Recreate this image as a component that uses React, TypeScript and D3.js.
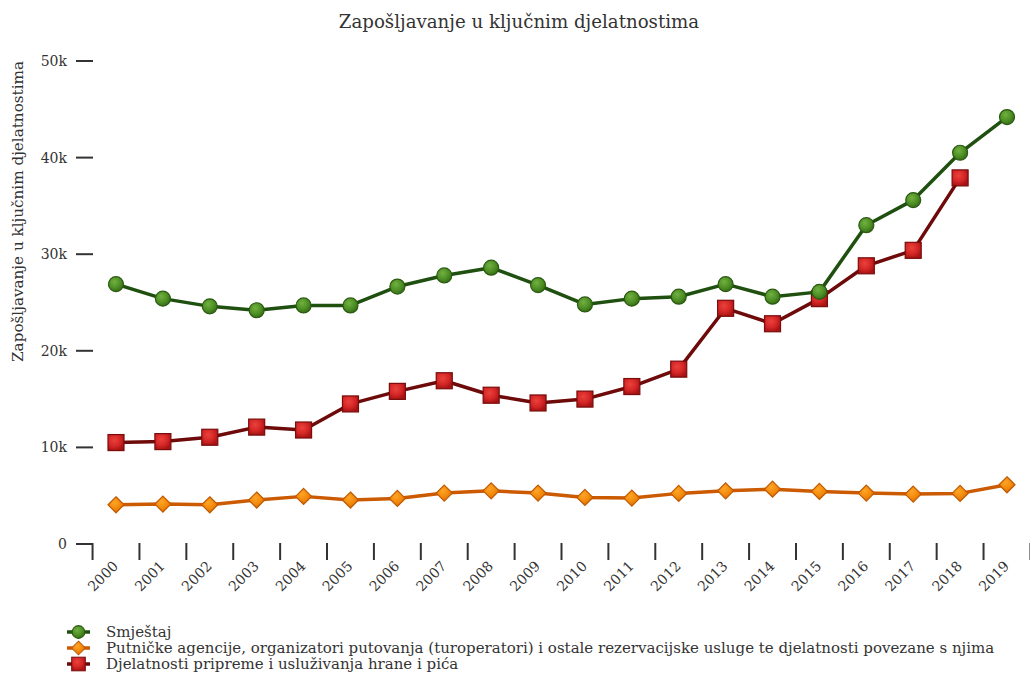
import React, { useEffect, useRef } from "react";
import * as d3 from "d3";

const years = [
  "2000", "2001", "2002", "2003", "2004", "2005", "2006", "2007", "2008", "2009",
  "2010", "2011", "2012", "2013", "2014", "2015", "2016", "2017", "2018", "2019",
];

const smjestaj = [
  26900, 25400, 24600, 24200, 24700, 24700, 26650, 27800, 28600, 26800,
  24800, 25400, 25600, 26900, 25600, 26100, 33000, 35600, 40500, 44200,
];

const putnicke = [
  4060, 4130, 4060, 4550, 4930, 4550, 4720, 5270, 5500, 5270,
  4820, 4750, 5240, 5500, 5680, 5440, 5270, 5170, 5240, 6130,
];

// no value for 2019
const hrana = [
  10500, 10600, 11050, 12100, 11800, 14500, 15800, 16900, 15400, 14600,
  15000, 16300, 18100, 24400, 22800, 25400, 28800, 30400, 37900, null,
];

const yTicks = [0, 10000, 20000, 30000, 40000, 50000];

const seriesNames = [
  "Smještaj",
  "Putničke agencije, organizatori putovanja (turoperatori) i ostale rezervacijske usluge te djelatnosti povezane s njima",
  "Djelatnosti pripreme i usluživanja hrane i pića",
];

const W = 1030;
const H = 673;
const FONT = "'DejaVu Serif', serif";

const App = () => {
  const ref = useRef<SVGSVGElement>(null);

  useEffect(() => {
    const svg = d3.select(ref.current);
    svg.selectAll("*").remove();

    const x = d3.scalePoint().domain(years).range([116, 1007]);
    const step = x.step();
    const y = d3.scaleLinear().domain([0, 50000]).range([544, 61]);

    const defs = svg.append("defs");
    const grad = (id, light, mid, dark) => {
      const g = defs
        .append("radialGradient")
        .attr("id", id)
        .attr("cx", "40%")
        .attr("cy", "35%")
        .attr("r", "65%");
      g.append("stop").attr("offset", "0%").attr("stop-color", light);
      g.append("stop").attr("offset", "60%").attr("stop-color", mid);
      g.append("stop").attr("offset", "100%").attr("stop-color", dark);
    };
    grad("g-green", "#72b040", "#4e9026", "#386e16");
    grad("g-orange", "#ffa526", "#f28a0c", "#d96f00");
    grad("g-red", "#ea423c", "#d42626", "#a81414");

    // title
    svg
      .append("text")
      .attr("x", 519)
      .attr("y", 28)
      .attr("text-anchor", "middle")
      .attr("font-family", FONT)
      .attr("font-size", "18.2px")
      .attr("fill", "#333")
      .text("Zapošljavanje u ključnim djelatnostima");

    // y axis label
    svg
      .append("text")
      .attr("transform", "translate(23, 61) rotate(-90)")
      .attr("text-anchor", "end")
      .attr("font-family", FONT)
      .attr("font-size", "15.2px")
      .attr("fill", "#333")
      .text("Zapošljavanje u ključnim djelatnostima");

    // y ticks
    const yAxis = svg.append("g");
    yAxis
      .selectAll("line")
      .data(yTicks)
      .enter()
      .append("line")
      .attr("x1", 76)
      .attr("x2", 93)
      .attr("y1", (d) => y(d))
      .attr("y2", (d) => y(d))
      .attr("stroke", "#333")
      .attr("stroke-width", 2);
    yAxis
      .selectAll("text")
      .data(yTicks)
      .enter()
      .append("text")
      .attr("x", 67)
      .attr("y", (d) => y(d) + 5)
      .attr("text-anchor", "end")
      .attr("font-family", FONT)
      .attr("font-size", "14px")
      .attr("fill", "#333")
      .text((d) => (d === 0 ? "0" : `${d / 1000}k`));

    // x ticks at category boundaries
    const bounds = [...years.map((d) => x(d) - step / 2), x(years[years.length - 1]) + step / 2];
    const xAxis = svg.append("g");
    xAxis
      .selectAll("line")
      .data(bounds)
      .enter()
      .append("line")
      .attr("x1", (d) => d)
      .attr("x2", (d) => d)
      .attr("y1", 543)
      .attr("y2", 560)
      .attr("stroke", "#333")
      .attr("stroke-width", 2);
    xAxis
      .selectAll("text")
      .data(years)
      .enter()
      .append("text")
      .attr("transform", (d) => `translate(${x(d) + 3}, 567) rotate(-45)`)
      .attr("text-anchor", "end")
      .attr("font-family", FONT)
      .attr("font-size", "14px")
      .attr("fill", "#333")
      .text((d) => d);

    const series = [
      { name: seriesNames[0], values: smjestaj, line: "#1f5010", fill: "url(#g-green)", stroke: "#2b5a12", shape: "circle" },
      { name: seriesNames[1], values: putnicke, line: "#cc5a00", fill: "url(#g-orange)", stroke: "#c05800", shape: "diamond" },
      { name: seriesNames[2], values: hrana, line: "#6e0a0a", fill: "url(#g-red)", stroke: "#7a0c0c", shape: "square" },
    ];

    const drawMarker = (g, shape, fill, stroke) => {
      if (shape === "circle") {
        g.append("circle").attr("r", 7.5).attr("fill", fill).attr("stroke", stroke).attr("stroke-width", 1.2);
      } else if (shape === "square") {
        g.append("rect")
          .attr("x", -8)
          .attr("y", -8)
          .attr("width", 16)
          .attr("height", 16)
          .attr("fill", fill)
          .attr("stroke", stroke)
          .attr("stroke-width", 1.2);
      } else {
        g.append("path")
          .attr("d", "M0,-8L8,0L0,8L-8,0Z")
          .attr("fill", fill)
          .attr("stroke", stroke)
          .attr("stroke-width", 1.2);
      }
    };

    const line = d3
      .line<number | null>()
      .defined((d) => d !== null)
      .x((_, i) => x(years[i]))
      .y((d) => y(d as number));

    // draw in order: orange, red, green on top
    [series[1], series[2], series[0]].forEach((s) => {
      svg
        .append("path")
        .attr("d", line(s.values))
        .attr("fill", "none")
        .attr("stroke", s.line)
        .attr("stroke-width", 3.5)
        .attr("stroke-linejoin", "round");
      s.values.forEach((v, i) => {
        if (v === null) return;
        const g = svg.append("g").attr("transform", `translate(${x(years[i])}, ${y(v)})`);
        drawMarker(g, s.shape, s.fill, s.stroke);
      });
    });

    // legend
    series.forEach((s, i) => {
      const ly = 632 + i * 16;
      svg
        .append("line")
        .attr("x1", 67)
        .attr("x2", 90)
        .attr("y1", ly)
        .attr("y2", ly)
        .attr("stroke", s.line)
        .attr("stroke-width", 3.5);
      const g = svg.append("g").attr("transform", `translate(78.5, ${ly}) scale(0.85)`);
      drawMarker(g, s.shape, s.fill, s.stroke);
      svg
        .append("text")
        .attr("x", 106)
        .attr("y", ly + 5)
        .attr("font-family", FONT)
        .attr("font-size", "15px")
        .attr("fill", "#333")
        .text(s.name);
    });
  }, []);

  return (
    <div style={{ position: "absolute", left: 0, top: 0 }}>
      <svg ref={ref} width={W} height={H} style={{ display: "block" }} />
    </div>
  );
};

export default App;
